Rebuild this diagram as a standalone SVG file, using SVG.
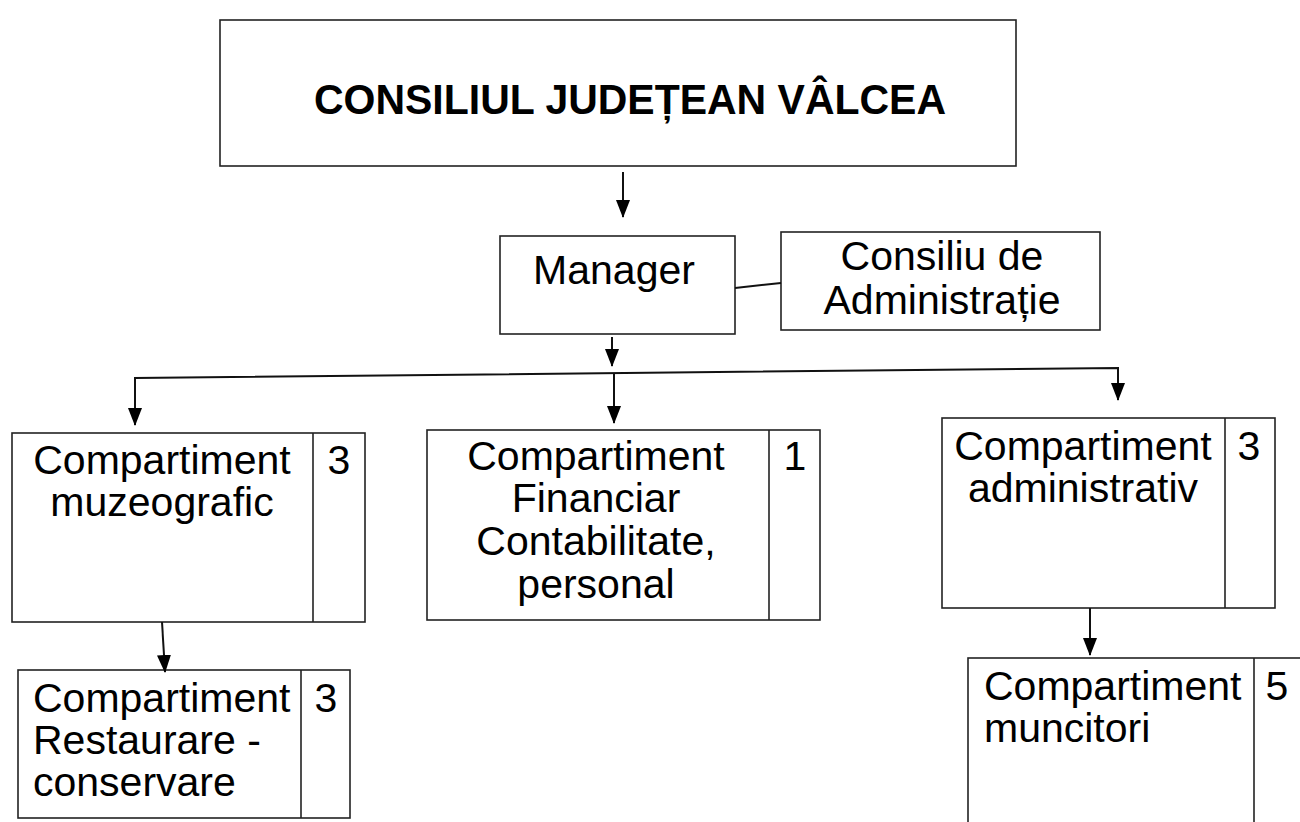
<svg xmlns="http://www.w3.org/2000/svg" width="1300" height="822" viewBox="0 0 1300 822">
<style>
.box{fill:#fff;stroke:#222;stroke-width:1.6}
.div{stroke:#222;stroke-width:1.6}
.t{font-family:"Liberation Sans",Arial,sans-serif;font-size:41px;fill:#000}
.c{text-anchor:middle}
.title{font-family:"Liberation Sans",Arial,sans-serif;font-size:42px;font-weight:bold;fill:#000;text-anchor:middle}
.ln{fill:none;stroke:#111;stroke-width:2}
</style>
<defs>
<marker id="ad" markerUnits="userSpaceOnUse" markerWidth="18" markerHeight="14" refX="17" refY="7" orient="auto" viewBox="0 0 18 14">
<path d="M0,0 L18,7 L0,14 Z" fill="#000"/>
</marker>
</defs>
<rect width="1300" height="822" fill="#fff"/>

<g id="consiliul-judetean">
<rect class="box" x="220" y="20" width="796" height="146"/>
<text class="title" x="630" y="114" textLength="632" lengthAdjust="spacingAndGlyphs">CONSILIUL JUDEȚEAN VÂLCEA</text>
</g>

<g id="manager">
<rect class="box" x="500" y="236" width="235" height="98"/>
<text class="t c" x="614" y="284">Manager</text>
</g>

<g id="consiliu-administratie">
<rect class="box" x="781" y="232" width="319" height="98"/>
<text class="t c" x="942" y="270">Consiliu de</text>
<text class="t c" x="942" y="314">Administrație</text>
</g>

<g id="comp-muzeografic">
<rect class="box" x="12" y="433" width="353" height="189"/>
<line class="div" x1="313" y1="433" x2="313" y2="622"/>
<text class="t c" x="162" y="474">Compartiment</text>
<text class="t c" x="162" y="516">muzeografic</text>
<text class="t c" x="339" y="474">3</text>
</g>

<g id="comp-restaurare">
<rect class="box" x="18" y="670" width="332" height="148"/>
<line class="div" x1="301" y1="670" x2="301" y2="818"/>
<text class="t" x="33" y="712">Compartiment</text>
<text class="t" x="33" y="754">Restaurare -</text>
<text class="t" x="33" y="796">conservare</text>
<text class="t c" x="326" y="712">3</text>
</g>

<g id="comp-financiar">
<rect class="box" x="427" y="430" width="393" height="190"/>
<line class="div" x1="769" y1="430" x2="769" y2="620"/>
<text class="t c" x="596" y="470">Compartiment</text>
<text class="t c" x="596" y="512">Financiar</text>
<text class="t c" x="596" y="555">Contabilitate,</text>
<text class="t c" x="596" y="598">personal</text>
<text class="t c" x="795" y="470">1</text>
</g>

<g id="comp-administrativ">
<rect class="box" x="942" y="418" width="333" height="190"/>
<line class="div" x1="1225" y1="418" x2="1225" y2="608"/>
<text class="t c" x="1083" y="460">Compartiment</text>
<text class="t c" x="1083" y="502">administrativ</text>
<text class="t c" x="1249" y="460">3</text>
</g>

<g id="comp-muncitori">
<rect class="box" x="968" y="658" width="340" height="170"/>
<line class="div" x1="1254" y1="658" x2="1254" y2="822"/>
<text class="t" x="984" y="700">Compartiment</text>
<text class="t" x="984" y="742">muncitori</text>
<text class="t c" x="1277" y="700">5</text>
</g>

<g id="connectors">
<line class="ln" x1="623" y1="172" x2="623" y2="217" marker-end="url(#ad)"/>
<line class="ln" x1="735" y1="288" x2="781" y2="283"/>
<line class="ln" x1="612" y1="337" x2="612" y2="366" marker-end="url(#ad)"/>
<polyline class="ln" points="135,400 135,378 1118,368 1118,385"/>
<line class="ln" x1="135" y1="390" x2="135" y2="425" marker-end="url(#ad)"/>
<line class="ln" x1="1118" y1="380" x2="1118" y2="400" marker-end="url(#ad)"/>
<line class="ln" x1="614" y1="374" x2="614" y2="423" marker-end="url(#ad)"/>
<line class="ln" x1="162" y1="622" x2="165" y2="672" marker-end="url(#ad)"/>
<line class="ln" x1="1090" y1="608" x2="1090" y2="655" marker-end="url(#ad)"/>
</g>
</svg>
